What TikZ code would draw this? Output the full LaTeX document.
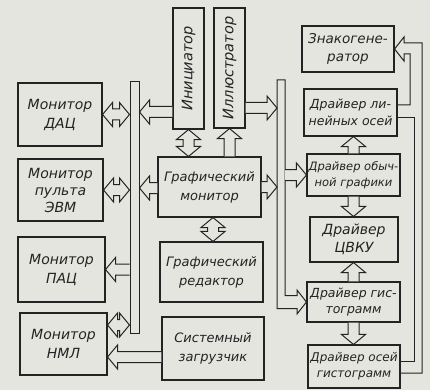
\documentclass[tikz,border=0pt]{standalone}
\usepackage{fontspec}
\setmainfont{DejaVu Sans}
\usetikzlibrary{calc}
\definecolor{paper}{RGB}{229,229,223}
\definecolor{ink}{RGB}{35,35,35}
\newcommand\swd{5.5}
\newcommand\hwd{12}
\newcommand\hln{10}
% single hollow arrow from #1 to #2
\newcommand\sarr[2]{%
  \path[conn] let \p1=#1, \p2=#2, \n1={veclen(\x2-\x1,\y2-\y1)}, \n2={atan2(\y2-\y1,\x2-\x1)} in
  [shift={(\x1,\y1)},rotate=\n2]
  (0pt,{\swd*1pt}) -- ({(\n1-\hln)*1pt},{\swd*1pt}) -- ({(\n1-\hln)*1pt},{\hwd*1pt}) -- ({\n1*1pt},0pt)
  -- ({(\n1-\hln)*1pt},{-\hwd*1pt}) -- ({(\n1-\hln)*1pt},{-\swd*1pt}) -- (0pt,{-\swd*1pt});}
% double hollow arrow between #1 and #2
\newcommand\darr[2]{%
  \path[conn] let \p1=#1, \p2=#2, \n1={veclen(\x2-\x1,\y2-\y1)}, \n2={atan2(\y2-\y1,\x2-\x1)} in
  [shift={(\x1,\y1)},rotate=\n2]
  (0pt,0pt) -- ({\hln*1pt},{\hwd*1pt}) -- ({\hln*1pt},{\swd*1pt}) -- ({(\n1-\hln)*1pt},{\swd*1pt})
  -- ({(\n1-\hln)*1pt},{\hwd*1pt}) -- ({\n1*1pt},0pt) -- ({(\n1-\hln)*1pt},{-\hwd*1pt})
  -- ({(\n1-\hln)*1pt},{-\swd*1pt}) -- ({\hln*1pt},{-\swd*1pt}) -- ({\hln*1pt},{-\hwd*1pt}) -- cycle;}
\begin{document}
\begin{tikzpicture}[x=1pt,y=-1pt,
  box/.style={draw=ink, line width=1.1pt, align=center, inner sep=0pt, text=ink, font=\itshape},
  conn/.style={draw=ink, line width=1pt, fill=paper, line join=miter},
  pipe/.style={draw=ink, line width=1pt, line join=miter}]
\fill[paper] (0,0) rectangle (430,390);
\useasboundingbox (0,0) rectangle (430,390);
% left column
\node[box, minimum width=84pt, minimum height=63pt, font=\itshape\fontsize{14}{19}\selectfont] (dac) at (60,114.5) {Монитор\\ДАЦ};
\node[box, minimum width=85pt, minimum height=62pt, font=\itshape\fontsize{14}{17}\selectfont] (pult) at (60.5,190) {Монитор\\пульта\\ЭВМ};
\node[box, minimum width=87pt, minimum height=65pt, font=\itshape\fontsize{14}{19}\selectfont] (pac) at (61.5,269.5) {Монитор\\ПАЦ};
\node[box, minimum width=87pt, minimum height=62pt, font=\itshape\fontsize{14}{19}\selectfont] (nml) at (63.5,344) {Монитор\\НМЛ};
% left bus
\node[draw=ink, line width=1pt, minimum width=9pt, minimum height=251pt, inner sep=0pt] (lbus) at (134.5,207.5) {};
% centre column
\node[box, minimum width=31pt, minimum height=121pt] (init) at (188.5,68.5) {};
\node[rotate=90, text=ink, font=\itshape\fontsize{14.5}{17}\selectfont] (initt) at (init.center) {Инициатор};
\node[box, minimum width=31pt, minimum height=120pt] (ill) at (229.5,68) {};
\node[rotate=90, text=ink, font=\itshape\fontsize{14.5}{17}\selectfont] (illt) at (ill.center) {Иллюстратор};
\node[box, minimum width=103pt, minimum height=60pt, font=\itshape\fontsize{13}{19}\selectfont] (gmon) at (209.5,187) {Графический\\монитор};
\node[box, minimum width=103pt, minimum height=60pt, font=\itshape\fontsize{13}{19}\selectfont] (gred) at (211.5,272) {Графический\\редактор};
\node[box, minimum width=102pt, minimum height=63pt, font=\itshape\fontsize{13}{19}\selectfont] (sload) at (213,348.5) {Системный\\загрузчик};
% right column
\node[box, minimum width=92pt, minimum height=46pt, font=\itshape\fontsize{13.5}{18}\selectfont] (zg) at (348,49) {Знакогене-\\ратор};
\node[box, minimum width=93pt, minimum height=47pt, font=\itshape\fontsize{12.5}{17}\selectfont] (dlo) at (350.5,112.5) {Драйвер ли-\\нейных осей};
\node[box, minimum width=93pt, minimum height=42pt, font=\itshape\fontsize{11.5}{16}\selectfont] (dog) at (353.5,175) {Драйвер обыч-\\ной графики};
\node[box, minimum width=88pt, minimum height=45pt, font=\itshape\fontsize{14}{18}\selectfont] (dcv) at (354,239.5) {Драйвер\\ЦВКУ};
\node[box, minimum width=93pt, minimum height=40pt, font=\itshape\fontsize{12.5}{16}\selectfont] (dg) at (353.5,302) {Драйвер гис-\\тограмм};
\node[box, minimum width=92pt, minimum height=43pt, font=\itshape\fontsize{12}{16}\selectfont] (dog2) at (354,366.5) {Драйвер осей\\гистограмм};
% right bus
\coordinate (rbl) at (277,80);
\coordinate (rbr) at (285,80);
\path[conn] (rbl) -- (rbl |- 0,308.5) -- (297,308.5) -- (297,314) -- (dg.west) -- (297,290) -- (297,295.5) -- (rbr |- 0,295.5) -- (rbr) -- cycle;
% left side connectors
\darr{(dac.east)}{(lbus.west |- dac.east)}
\sarr{(init.west |- 0,112)}{(lbus.east |- 0,112)}
\darr{(pult.east)}{(lbus.west |- pult.east)}
\sarr{(gmon.west |- 0,188)}{(lbus.east |- 0,188)}
\sarr{(lbus.west |- pac.east)}{(pac.east)}
\darr{(nml.east |- 0,325)}{(lbus.west |- 0,325)}
\sarr{(sload.west |- 0,357)}{(nml.east |- 0,357)}
% centre connectors
\darr{(init.south)}{(init.south |- gmon.north)}
\sarr{(gmon.north -| ill.south)}{(ill.south)}
\darr{(gmon.south -| 213,0)}{(gred.north -| 213,0)}
\sarr{(ill.east |- 0,108)}{(rbl |- 0,108)}
\sarr{(gmon.east |- 0,187)}{(rbl |- 0,187)}
\sarr{(rbr |- dog.west)}{(dog.west)}
% right column connectors
\sarr{(dog.north)}{(dog.north |- dlo.south)}
\sarr{(dog.south)}{(dog.south |- dcv.north)}
\sarr{(dg.north)}{(dg.north |- dcv.south)}
\sarr{(dg.south)}{(dg.south |- dog2.north)}
% feedback pipe to the character generator
\draw[pipe] (dog2.east |- 0,373) -- (422,373) -- (422,43) -- (404,43) -- (404,37) -- (zg.east)
  -- (404,61) -- (404,54) -- (410,54) -- (410,105) -- (dlo.east |- 0,105);
\draw[pipe] (dlo.east |- 0,118) -- (414,118) -- (414,361) -- (dog2.east |- 0,361);
\end{tikzpicture}
\end{document}
